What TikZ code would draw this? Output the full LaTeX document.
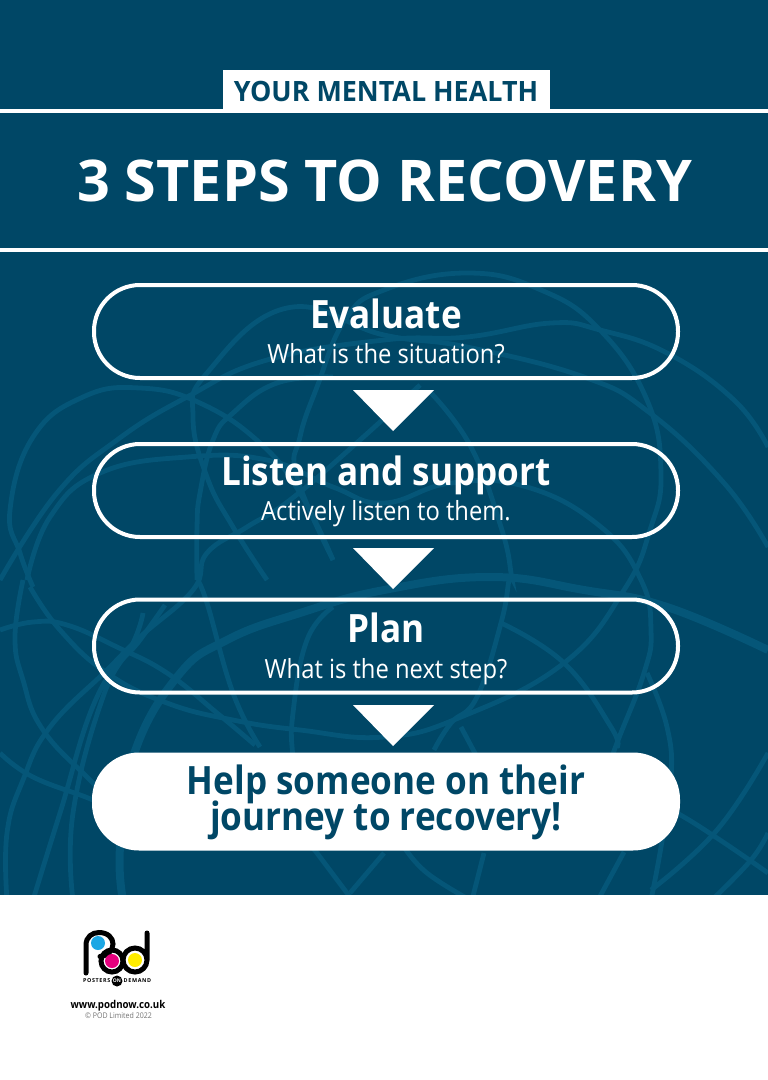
\documentclass[tikz,border=0pt]{standalone}
\usepackage{fontspec}
\setmainfont{Open Sans}
\newfontfamily\ctitle{Open Sans Bold}
\newfontfamily\ckick[FakeStretch=0.96]{Open Sans Bold}
\newfontfamily\cbold[FakeStretch=0.90]{Open Sans Bold}
\newfontfamily\creg[FakeStretch=0.90]{Open Sans}
\newfontfamily\cspaced[LetterSpace=12]{Open Sans Bold}
\newcommand{\fs}[1]{\fontsize{#1}{#1}\selectfont}
\definecolor{navy}{HTML}{004766}
\definecolor{swirl}{HTML}{055678}
\definecolor{cblue}{HTML}{1CA7E4}
\definecolor{cpink}{HTML}{E6007E}
\definecolor{cyell}{HTML}{FFED00}
\tikzset{
  pill/.style={draw=white,line width=4pt,rounded corners=46pt,minimum width=584pt,minimum height=93pt,inner sep=0pt},
  solidpill/.style={fill=white,rounded corners=47pt,minimum width=588pt,minimum height=98pt,inner sep=0pt},
  label/.style={anchor=base,inner sep=0pt},
  swirlthin/.style={draw=swirl,line width=4.8pt},
  swirlthick/.style={draw=swirl,line width=8pt},
  tip/.style={fill=white},
  logoline/.style={draw=black,line width=5pt,line cap=round},
  smooth tension/.style={smooth,tension=0.75},
}
\begin{document}
\begin{tikzpicture}[x=1pt,y=-1pt]
\useasboundingbox (0,0) rectangle (768,1080);
\fill[white] (0,0) rectangle (768,1080);
\fill[navy] (0,0) rectangle (768,895);
\begin{scope}
\clip (0,254) rectangle (768,894);
\draw[swirlthin] plot[smooth tension] coordinates {(30,587)(60,630)(107,673)(167,703)(233,720)(300,730)(384,737)(461,717)(564,663)(624,590)(650,530)(661,473)(647,400)(600,330)(541,290)(467,273)(384,290)(345,320)(317,387)(300,437)(297,477)(333,560)};
\draw[swirlthin] plot[smooth tension] coordinates {(267,580)(233,527)(207,477)(193,417)(207,373)(287,308)(384,335)(467,347)(584,377)(650,413)(724,483)(768,547)};
\draw[swirlthin] plot[smooth tension] coordinates {(0,580)(57,493)(117,440)(187,397)(267,360)(384,340)(467,337)(551,323)(600,330)(667,353)(734,400)(768,447)};
\draw[swirlthin] plot[smooth tension] coordinates {(33,587)(20,553)(10,510)(33,437)(83,397)(140,388)(200,403)(260,443)(300,493)(333,560)};
\draw[swirlthin] plot[smooth tension] coordinates {(23,580)(15,637)(23,680)(43,730)(93,783)(140,830)};
\draw[swirlthin] plot[smooth tension] coordinates {(0,630)(33,622)(67,625)(117,647)(167,673)(217,713)(255,745)};
\draw[swirlthin] plot[smooth tension] coordinates {(0,753)(33,777)(93,800)(120,815)};
\draw[swirlthin] plot[smooth tension] coordinates {(640,795)(677,813)(720,840)(768,873)};
\draw[swirlthick] plot[smooth tension] coordinates {(123,900)(120,847)(133,757)(177,677)(227,640)(300,613)(384,590)(490,577)(584,590)(667,607)(768,650)};
\draw[swirlthin] plot[smooth tension] coordinates {(7,900)(7,833)(23,780)(50,727)(107,670)(140,637)(193,590)(207,553)(247,527)(290,500)(360,440)(420,385)};
\draw[swirlthin] plot[smooth tension] coordinates {(27,580)(50,517)(100,473)(187,457)(267,460)(333,487)(384,503)(451,483)(527,487)(601,527)(641,580)(651,630)(644,673)(617,743)(600,790)};
\draw[swirlthin] plot[smooth tension] coordinates {(33,900)(60,813)(97,697)(140,640)(165,605)};
\draw[swirlthin] plot[smooth tension] coordinates {(73,900)(73,813)(103,697)(133,643)(143,613)};
\draw[swirlthin] plot[smooth tension] coordinates {(197,580)(197,527)(200,493)(213,440)(233,413)(277,383)(333,377)};
\draw[swirlthin] plot[smooth tension] coordinates {(197,580)(207,603)(233,693)(260,747)};
\draw[swirlthin] plot[smooth tension] coordinates {(333,607)(307,640)(293,713)(293,760)(300,830)(317,853)(350,897)};
\draw[swirlthin] plot[smooth tension] coordinates {(431,393)(471,447)(501,527)(511,573)(509,580)(501,623)(477,697)(451,723)(434,750)};
\draw[swirlthin] plot[smooth tension] coordinates {(501,623)(564,663)(611,727)(617,747)};
\draw[swirlthin] plot[smooth tension] coordinates {(647,673)(667,727)(671,780)(661,847)(651,900)};
\draw[swirlthin] plot[smooth tension] coordinates {(651,890)(717,830)(768,753)};
\draw[swirlthin] plot[smooth tension] coordinates {(715,897)(751,860)(768,833)};
\draw[swirlthin] plot[smooth tension] coordinates {(404,847)(427,873)(470,900)};
\draw[swirlthin] plot[smooth tension] coordinates {(484,853)(472,900)};
\draw[swirlthin] plot[smooth tension] coordinates {(624,852)(598,900)};
\draw[swirlthin] plot[smooth tension] coordinates {(350,893)(384,853)};
\draw[swirlthin] plot[smooth tension] coordinates {(461,727)(477,757)};
\end{scope}
% header
\fill[white] (0,109) rectangle (768,113);
\fill[white] (0,248) rectangle (768,252);
\fill[white] (223,70) rectangle (550,110);
\node[label,text=navy] (kicker) at (386,101) {\ckick\fs{28}YOUR MENTAL HEALTH};
\node[label,text=white] (title) at (384.5,201) {\ctitle\fs{57.5}3 STEPS TO RECOVERY};
% steps
\node[pill] (b1) at (386,331.5) {};
\node[pill] (b2) at (386,490.5) {};
\node[pill] (b3) at (386,646) {};
\node[solidpill] (b4) at (386,801.5) {};
\node[label,text=white] (t1) at (386,328.5) {\cbold\fs{39}Evaluate};
\node[label,text=white] (s1) at (386,363.5) {\creg\fs{26.4}What is the situation?};
\node[label,text=white] (t2) at (386,485.5) {\cbold\fs{39}Listen and support};
\node[label,text=white] (s2) at (386,520.5) {\creg\fs{26.4}Actively listen to them.};
\node[label,text=white] (t3) at (386,642.5) {\cbold\fs{39}Plan};
\node[label,text=white] (s3) at (386,678.5) {\creg\fs{26.4}What is the next step?};
\node[label,text=navy] (h1) at (386,794.5) {\cbold\fs{39}Help someone on their};
\node[label,text=navy] (h2) at (386,830) {\cbold\fs{39}journey to recovery!};
\fill[tip] (353,390) -- (434,390) -- (393,431) -- cycle;
\fill[tip] (353,548) -- (434,548) -- (393,589) -- cycle;
\fill[tip] (353,705) -- (434,705) -- (393,746) -- cycle;
% logo
\draw[logoline] (86,973) -- (86,945) .. controls (86,937) and (92,932.5) .. (99,932.5) .. controls (108,932.5) and (113,938) .. (113,944) .. controls (113,951) and (107,956) .. (100,956.5);
\draw[logoline] (112,961) circle[radius=11];
\draw[logoline] (147,933) -- (147,960) arc[start angle=0,end angle=360,radius=12];
\fill[cblue] (98,943) circle[radius=7];
\fill[cpink] (112,961) circle[radius=7];
\fill[cyell] (135,960) circle[radius=7];
\fill[black] (117,981) circle[radius=5.5];
\node[inner sep=0pt,text=white] (on) at (117,981) {\ctitle\fs{5}ON};
\node[inner sep=0pt,anchor=east,text=black] (posters) at (110.5,981) {\cspaced\fs{5.4}POSTERS};
\node[inner sep=0pt,anchor=west,text=black] (demand) at (123.5,981) {\cspaced\fs{5.4}DEMAND};
\node[label,text=black] (web) at (118,1008) {\cbold\fs{10.8}www.podnow.co.uk};
\node[label,text=black!55] (copy) at (118.5,1018) {\creg\fs{7.8}© POD Limited 2022};
\end{tikzpicture}
\end{document}
